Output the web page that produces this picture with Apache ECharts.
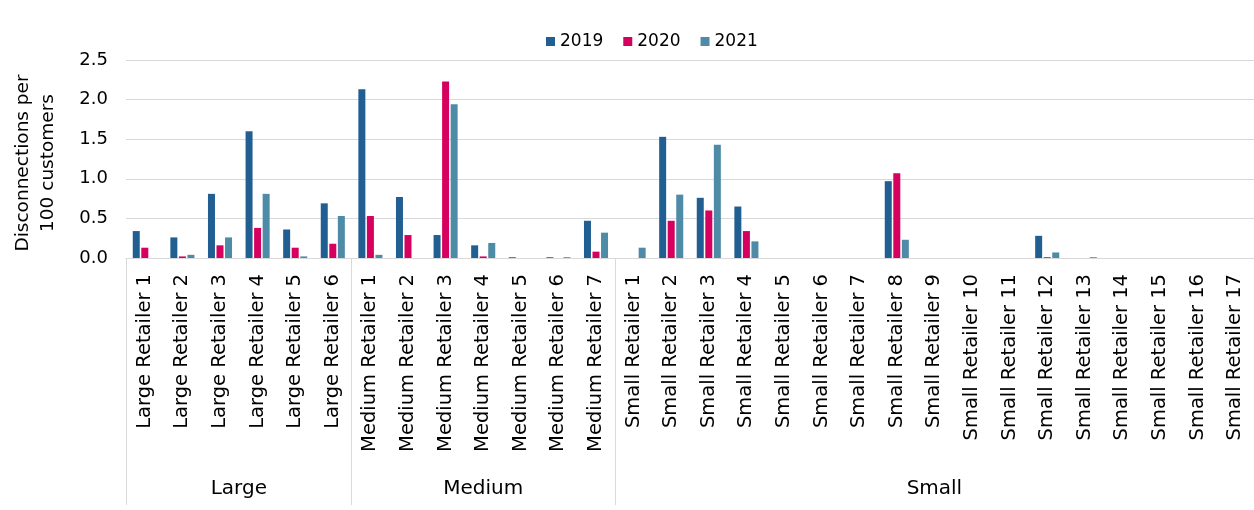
<!DOCTYPE html>
<html>
<head>
<meta charset="utf-8">
<script src="https://cdn.jsdelivr.net/npm/echarts@6/dist/echarts.min.js"></script>
<style>html,body{margin:0;padding:0;background:#fff;}#c{width:1254px;height:510px;}</style>
</head>
<body>
<div id="c"></div>
<script>
const categories = [
  'Large Retailer 1','Large Retailer 2','Large Retailer 3','Large Retailer 4','Large Retailer 5','Large Retailer 6',
  'Medium Retailer 1','Medium Retailer 2','Medium Retailer 3','Medium Retailer 4','Medium Retailer 5','Medium Retailer 6','Medium Retailer 7',
  'Small Retailer 1','Small Retailer 2','Small Retailer 3','Small Retailer 4','Small Retailer 5','Small Retailer 6','Small Retailer 7','Small Retailer 8','Small Retailer 9','Small Retailer 10','Small Retailer 11','Small Retailer 12','Small Retailer 13','Small Retailer 14','Small Retailer 15','Small Retailer 16','Small Retailer 17'
];
const groups = ['Large', 'Medium', 'Small'];
const seriesNames = ['2019', '2020', '2021'];
const values2019 = [0.34,0.26,0.81,1.60,0.36,0.69, 2.13,0.77,0.29,0.16,0.01,0.01,0.47, 0,1.53,0.76,0.65,0,0,0,0.97,0,0,0,0.28,0,0,0,0,0];
const values2020 = [0.13,0.02,0.16,0.38,0.13,0.18, 0.53,0.29,2.23,0.02,0,0,0.08, 0,0.47,0.60,0.34,0,0,0,1.07,0,0,0,0.01,0,0,0,0,0];
const values2021 = [0,0.04,0.26,0.81,0.02,0.53, 0.04,0,1.94,0.19,0,0.01,0.32, 0.13,0.80,1.43,0.21,0,0,0,0.23,0,0,0,0.07,0.01,0,0,0,0];
const yTicks = [0, 0.5, 1.0, 1.5, 2.0, 2.5];

// group boundaries and centers derived from category names
const bounds = [];
const centers = [];
groups.forEach(g => {
  const idx = categories.map((c, i) => c.startsWith(g + ' ') ? i : -1).filter(i => i >= 0);
  const start = idx[0], end = idx[idx.length - 1] + 1;
  bounds.push(start);
  centers.push((start + end) / 2);
});

const colors = ['#215e91', '#d6005e', '#4d8ba6'];
const FONT = 'DejaVu Sans';
const chart = echarts.init(document.getElementById('c'), null, {renderer: 'canvas'});
chart.setOption({
  animation: false,
  backgroundColor: '#fff',
  color: colors,
  textStyle: {fontFamily: FONT},
  legend: {
    data: seriesNames,
    top: 28,
    left: 541,
    icon: 'rect',
    itemWidth: 9,
    itemHeight: 9,
    itemGap: 20,
    textStyle: {fontSize: 17, color: '#000', fontFamily: FONT}
  },
  grid: {left: 126, right: 0, top: 60, bottom: 252, containLabel: false, outerBoundsMode: 'none'},
  xAxis: [{
    type: 'category',
    data: categories,
    axisLine: {show: true, lineStyle: {color: '#d9d9d9'}},
    axisTick: {show: false},
    axisLabel: {interval: 0, rotate: 90, margin: 16, fontSize: 19.5, color: '#000', fontFamily: FONT}
  }, {
    type: 'value',
    min: 0,
    max: categories.length,
    position: 'bottom',
    offset: 247,
    axisLine: {show: false},
    splitLine: {show: false},
    axisTick: {show: true, inside: true, length: 247, customValues: bounds, lineStyle: {color: '#d9d9d9'}},
    axisLabel: {
      show: true, inside: true, margin: 6, customValues: centers,
      fontSize: 20, color: '#000', fontFamily: FONT,
      formatter: v => groups[centers.indexOf(v)] || ''
    }
  }],
  yAxis: {
    type: 'value',
    min: yTicks[0], max: yTicks[yTicks.length - 1], interval: 0.5,
    name: 'Disconnections per\n100 customers',
    nameLocation: 'middle',
    nameGap: 65,
    nameTextStyle: {fontSize: 18.5, color: '#000', fontFamily: FONT, lineHeight: 25, padding: [0, 8, 0, 0]},
    axisLine: {show: false},
    axisTick: {show: false},
    splitLine: {lineStyle: {color: '#d9d9d9', width: 1}},
    axisLabel: {margin: 18, fontSize: 18, color: '#000', fontFamily: FONT, formatter: v => v.toFixed(1)}
  },
  series: [values2019, values2020, values2021].map((d, i) => ({
    name: seriesNames[i],
    type: 'bar',
    data: d,
    barWidth: 7,
    barGap: '22%',
    itemStyle: {color: colors[i]}
  }))
});
</script>
</body>
</html>
